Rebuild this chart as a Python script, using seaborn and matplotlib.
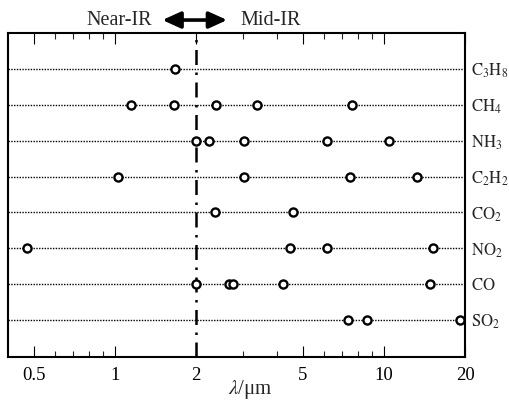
import numpy as np
import pandas as pd
import matplotlib
matplotlib.use("Agg")
import matplotlib.pyplot as plt
import matplotlib.transforms as mtransforms
import seaborn as sns

# ---- data ----
gases = ["C3H8", "CH4", "NH3", "C2H2", "CO2", "NO2", "CO", "SO2"]
gas_labels = [r"$\mathrm{C_3H_8}$", r"$\mathrm{CH_4}$", r"$\mathrm{NH_3}$",
              r"$\mathrm{C_2H_2}$", r"$\mathrm{CO_2}$", r"$\mathrm{NO_2}$",
              r"$\mathrm{CO}$", r"$\mathrm{SO_2}$"]
c3h8 = [1.67]
ch4 = [1.15, 1.66, 2.37, 3.37, 7.6]
nh3 = [2.0, 2.24, 3.02, 6.14, 10.4]
c2h2 = [1.03, 3.02, 7.47, 13.3]
co2 = [2.35, 4.59]
no2 = [0.47, 4.47, 6.14, 15.2]
co = [2.0, 2.65, 2.75, 4.21, 14.8]
so2 = [7.35, 8.65, 19.2]
bands = [c3h8, ch4, nh3, c2h2, co2, no2, co, so2]
divider = 2.0
xticks = [0.5, 1, 2, 5, 10, 20]
xticklabels = ["0.5", "1", "2", "5", "10", "20"]

rows = []
for i, (g, vals) in enumerate(zip(gases, bands)):
    for v in vals:
        rows.append({"gas": g, "pos": i, "wl": v})
df = pd.DataFrame(rows)

sns.set_style("ticks")
plt.rcParams["font.family"] = ["Liberation Serif", "DejaVu Serif"]
plt.rcParams["mathtext.fontset"] = "stix"

fig = plt.figure(figsize=(5.09, 4.08), dpi=100)
ax = fig.add_axes([8/509, 1-357/408, (465-8)/509, (357-33)/408])
ax.set_xscale("log")

# dotted guide lines for each gas
for i in range(len(gases)):
    ax.axhline(i, color="black", lw=1.0, ls=(0, (1, 1)), zorder=1)

# vertical dash-dot divider
ax.axvline(divider, color="black", lw=1.8, ls=(0, (6, 3, 1, 3)), zorder=2)

sns.scatterplot(data=df, x="wl", y="pos", ax=ax, marker="o", s=34,
                facecolor="white", edgecolor="black", linewidth=1.7,
                zorder=3, clip_on=False, legend=False)

ax.set_xlim(0.4, 20)
ax.set_ylim(len(gases) - 1 + 1.03, -1.0)

ax.set_xticks(xticks)
ax.set_xticklabels(xticklabels)
minor = [0.6, 0.7, 0.8, 0.9, 3, 4, 6, 7, 8, 9]
ax.xaxis.set_minor_locator(matplotlib.ticker.FixedLocator(minor))
ax.xaxis.set_minor_formatter(matplotlib.ticker.NullFormatter())
ax.tick_params(axis="x", which="major", direction="in", length=8, width=0.8,
               top=True, labelsize=13.5, pad=7, colors="black")
ax.tick_params(axis="x", which="minor", direction="in", length=4, width=0.8,
               top=True)

ax.yaxis.tick_right()
ax.set_yticks(range(len(gases)))
ax.set_yticklabels(gas_labels)
ax.tick_params(axis="y", length=0, labelsize=12, pad=4, left=False)

for s in ax.spines.values():
    s.set_linewidth(1.5)
    s.set_color("black")

ax.set_xlabel(r"$\lambda$/μm", fontsize=15, labelpad=3)
ax.xaxis.set_label_coords(0.53, -0.066)
ax.set_ylabel("")

# top annotation
trans = mtransforms.blended_transform_factory(ax.transData, ax.transAxes)
ax.annotate("", xy=(1.50, 1.04), xytext=(2.61, 1.04), xycoords=trans,
            textcoords=trans,
            arrowprops=dict(arrowstyle="<|-|>,head_length=0.55,head_width=0.25",
                            lw=2.6, color="black",
                            mutation_scale=20, shrinkA=0, shrinkB=0))
ax.text(1.373, 1.04, "Near-IR", transform=trans, ha="right", va="center",
        fontsize=14.5)
ax.text(2.915, 1.04, "Mid-IR", transform=trans, ha="left", va="center",
        fontsize=14.5)

fig.savefig("out.png", dpi=100)
